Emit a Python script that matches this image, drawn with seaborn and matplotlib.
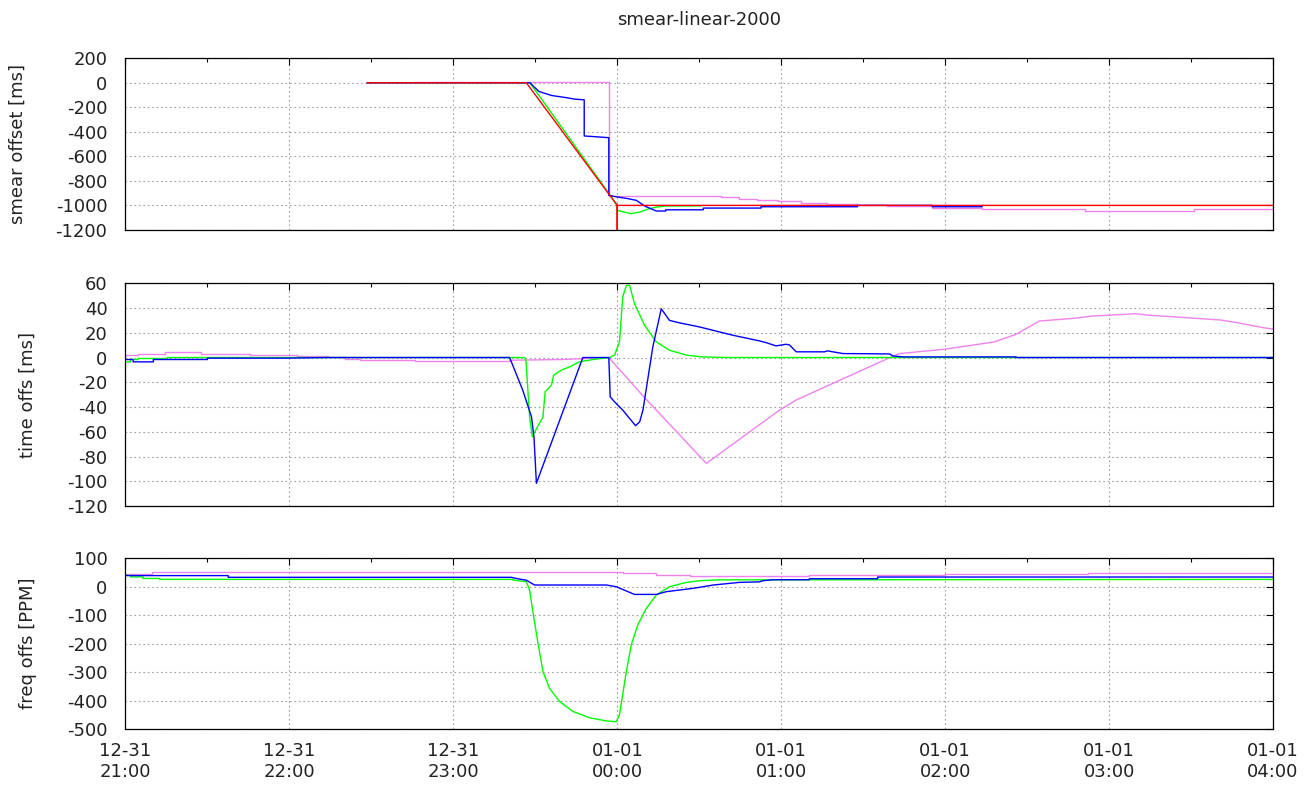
import numpy as np
import pandas as pd
import matplotlib
matplotlib.use("Agg")
import matplotlib.pyplot as plt
import matplotlib.dates as mdates
import seaborn as sns

# times are minutes relative to 2017-01-01 00:00 (leap second night)
smear_red_t = [-91.6, -33.3, 0.0, 0.0, 0.0, 240.0]
smear_red_v = [0, 0, -1000, -1300, -1000, -1000]

smear_violet_t = [-74.6, -3.1, 38.1, 44.6, 51.2, 58.9, 67.2, 76.7, 87.9, 98.6, 115.3, 133.6, 171.2, 211.1, 240]
smear_violet_v = [5, -920, -934, -945, -955, -968, -977, -985, -995, -1003, -1018, -1032, -1043, -1033, -1033]

smear_blue_t = [-91.6, -32.0, -28.7, -24.0, -19.1, -15.4, -12.1, -12.1, -8.1, -3.1, -3.1, 0.2, 3.9, 7.0,
                10.0, 14.3, 17.7, 17.7, 31.5, 31.5, 52.6, 52.6, 87.9, 87.9, 115.3, 115.3, 133.6]
smear_blue_v = [0, 0, -71, -104, -120, -134, -139, -434, -440, -448, -918, -932, -945, -959,
                -1005, -1046, -1046, -1036, -1036, -1022, -1022, -1011, -1011, -1000, -1000, -1011, -1011]

smear_green_t = [-91.6, -32.0, -0.4, 0.1, 5.0, 8.1, 11.8, 14.3, 17.9, 30.8]
smear_green_v = [0, 0, -986, -1041, -1068, -1055, -1027, -1014, -1005, -1004]

toff_blue_t = [-180, -177.2, -177.2, -169.8, -169.8, -150, -150, -121.8, -105, -39.4, -34.6, -31.4, -30.5,
               -29.6, -12.6, -9.5, -3.1, -2.6, -1.0, 2.0, 6.7, 8.2, 9.4, 13.0, 16.1, 19.1, 22.8, 30.1,
               42.3, 52.1, 54.5, 58.1, 61.8, 63.0, 65.5, 75.8, 77.0, 78.9, 82.6, 99.7, 100.9, 104.5,
               146, 146, 240]
toff_blue_v = [-1.6, -1.6, -3.5, -3.5, -1.6, -1.6, -0.5, -0.5, 0, 0, -26.4, -47.9, -64,
               -101.6, 0, 0, 0, -31.7, -35.8, -42.5, -55.1, -51.9, -42.5, 8.5, 39.4, 30, 28, 24.7,
               18, 13.4, 12, 9.4, 10.7, 10.2, 4.6, 4.6, 5.4, 4.6, 3.2, 2.9, 1.3, 0.5,
               0.5, 0, 0]

toff_green_t = [-180, -178.2, -178.2, -175.4, -175.4, -164.6, -164.6, -33.9, -33.4, -32.1, -31.1, -30.2,
                -27.2, -26.4, -24.1, -23.3, -20.5, -17.4, -13.8, -8.9, -2.8, -1.0, 0.8, 2.0, 3.3, 4.5,
                6.3, 10.0, 14.3, 19.1, 25.3, 31.3, 40, 240]
toff_green_v = [-3.5, -3.5, -1.6, -1.6, -0.8, -0.8, 0, 0, -2.7, -47.9, -64, -60,
                -48, -27.7, -22.3, -14.3, -10.2, -7.5, -3.5, -1.6, 0, 1.9, 12.6, 48.9, 58.3, 58.3,
                43.5, 26, 12.6, 5.9, 1.9, 0.5, 0, 0]

toff_violet_t = [-180, -175.4, -165.6, -152.2, -134.5, -117.4, -105.9, -99.8, -94.3, -74.2, -39.4]
toff_violet_v = [2.4, 3.2, 4.3, 3.2, 2.1, 1.0, 0.5, -0.8, -2.2, -3.0, -2.2]
toff_violet_tail_t = [-39.4, -20, -3.1, 9.4, 32.6, 59.4, 65.5, 100.3, 103.3, 119.8, 138, 146, 154.5,
                      166.8, 174, 186, 190, 193.8, 208.2, 220.8, 226.8, 236.4, 240]
toff_violet_tail_v = [-2.2, -1.6, 0, -31, -85.5, -42.5, -34.3, 0.5, 3.2, 6.7, 12.6, 18.8, 29.5,
                      31.6, 33.5, 34.9, 35.4, 34.3, 32.2, 30.3, 28.2, 24.1, 23]

freq_violet_t = [-180, -170.4, 2.0, 14.3, 26.5, 52.0, 70.3, 119.8, 172.2, 240]
freq_violet_v = [46, 52, 47, 41, 37, 39, 41, 44, 48, 48]

freq_blue_t = [-180, -142.4, -142.4, -38.8, -36.0, -33.3, -30.3, -4.0, -0.4, 6.3, 14.3, 17.9, 27.7,
               35.0, 44.7, 52.0, 53.3, 57.0, 70.3, 70.3, 95.3, 95.3, 240]
freq_blue_v = [39, 39, 33, 33, 27, 23, 6, 6, 0, -27, -27, -17.5, -5.8,
               5.8, 15.2, 17, 21, 24.5, 24.5, 28, 28, 34, 34]

freq_green_t = [-180, -178.2, -178.2, -173.6, -173.6, -167.5, -167.5, -38.2, -38.2, -33.3, -32.1, -30.9,
                -29.1, -27.2, -24.8, -21.1, -16.2, -10.1, -4.0, -0.4, 0.8, 3.3, 5.1, 7.5, 10.6, 14.3,
                19.1, 25.2, 30.1, 37.4, 240]
freq_green_v = [40, 40, 34.5, 34.5, 29, 29, 25.7, 25.7, 23.4, 17.5, -11.7, -87.7,
                -193, -298, -357, -403, -438, -460, -471, -474, -450, -298, -205, -134, -76, -29,
                0, 15, 21, 24, 25.7]

smear_yticks = list(range(-1200, 201, 200))
toff_yticks = list(range(-120, 61, 20))
freq_yticks = list(range(-500, 101, 100))

RED, GREEN, BLUE, VIOLET = "#ff0000", "#00ff00", "#0000ff", "#ee82ee"

base = pd.Timestamp("2017-01-01 00:00")
t_start = pd.Timestamp("2016-12-31 21:00")
t_end = pd.Timestamp("2017-01-01 04:00")


def to_time(minutes):
    return base + pd.to_timedelta(np.asarray(minutes, dtype=float), unit="min")


def draw(ax, t, v, color, **kw):
    sns.lineplot(x=to_time(t), y=v, ax=ax, color=color, linewidth=1.0,
                 estimator=None, sort=False, legend=False, **kw)


def style_axes(ax, yticks, ylabel, label_x, show_xlabels):
    ax.set_xlim(t_start, t_end)
    ax.set_ylim(yticks[0], yticks[-1])
    ax.set_yticks(yticks)
    ax.xaxis.set_major_locator(mdates.HourLocator())
    ax.xaxis.set_minor_locator(mdates.MinuteLocator(byminute=[30]))
    ax.xaxis.set_major_formatter(mdates.DateFormatter("%m-%d\n%H:%M"))
    ax.tick_params(which="both", direction="in", top=True, right=True, width=0.8, color="black")
    ax.tick_params(which="major", length=5)
    ax.tick_params(which="minor", length=3)
    ax.tick_params(axis="y", pad=13)
    ax.tick_params(axis="x", pad=9, labelbottom=show_xlabels)
    ax.grid(True, which="major", color="#a0a0a0", linestyle=(0, (1.5, 2.5)), linewidth=0.8)
    for s in ax.spines.values():
        s.set_linewidth(0.9)
        s.set_color("black")
    ax.set_xlabel("")
    ax.set_ylabel(ylabel)
    ax.yaxis.set_label_coords(label_x, 0.5)


sns.set_style("white")
plt.rcParams["font.family"] = ["DejaVu Sans"]
plt.rcParams["font.size"] = 13
plt.rcParams["axes.unicode_minus"] = False
plt.rcParams["text.color"] = "#222222"
plt.rcParams["axes.labelcolor"] = "#222222"
plt.rcParams["xtick.color"] = "#222222"
plt.rcParams["ytick.color"] = "#222222"

fig = plt.figure(figsize=(13.14, 7.89), dpi=100)
ax1 = fig.add_axes([0.0955, 0.7086, 0.8733, 0.2176])
ax2 = fig.add_axes([0.0955, 0.3586, 0.8733, 0.2824])
ax3 = fig.add_axes([0.0955, 0.0758, 0.8733, 0.2167])

# smear offset
draw(ax1, smear_violet_t, smear_violet_v, VIOLET, drawstyle="steps-post")
draw(ax1, smear_green_t, smear_green_v, GREEN)
draw(ax1, smear_blue_t, smear_blue_v, BLUE)
draw(ax1, smear_red_t, smear_red_v, RED)

# time offset
draw(ax2, toff_violet_t, toff_violet_v, VIOLET, drawstyle="steps-post")
draw(ax2, toff_violet_tail_t, toff_violet_tail_v, VIOLET)
draw(ax2, toff_green_t, toff_green_v, GREEN)
draw(ax2, toff_blue_t, toff_blue_v, BLUE)

# frequency offset
draw(ax3, freq_violet_t, freq_violet_v, VIOLET, drawstyle="steps-post")
draw(ax3, freq_green_t, freq_green_v, GREEN)
draw(ax3, freq_blue_t, freq_blue_v, BLUE)

style_axes(ax1, smear_yticks, "smear offset [ms]", -0.0858, False)
style_axes(ax2, toff_yticks, "time offs [ms]", -0.077, False)
style_axes(ax3, freq_yticks, "freq offs [PPM]", -0.077, True)

for lbl in ax3.get_xticklabels():
    lbl.set_linespacing(1.25)

ax1.set_title("smear-linear-2000", fontsize=13, pad=24)

fig.savefig("out.png", dpi=100)
plt.close(fig)
